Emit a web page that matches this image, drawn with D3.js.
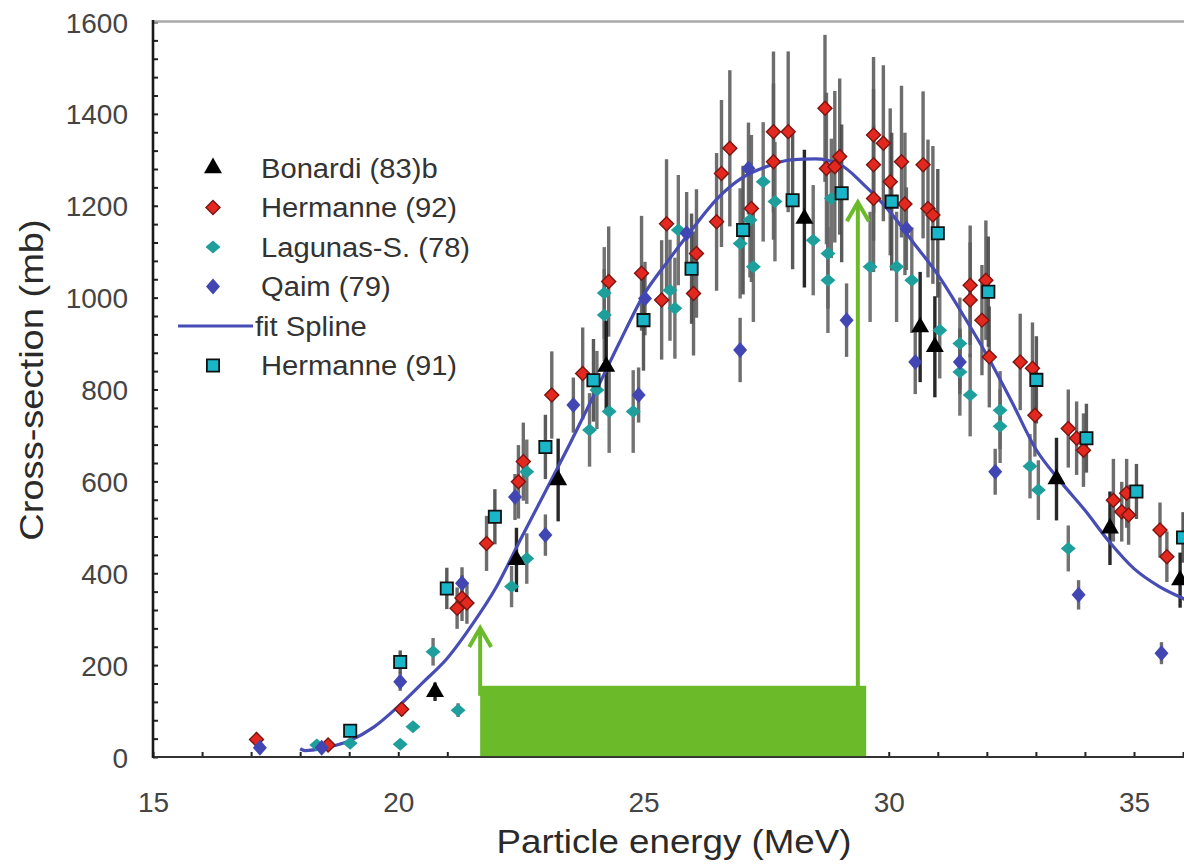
<!DOCTYPE html>
<html>
<head>
<meta charset="utf-8">
<script src="https://cdn.jsdelivr.net/npm/d3@7"></script>
<style>
  body { margin: 0; background: #fff; }
  svg { display: block; font-family: "Liberation Sans", Arial, sans-serif; }
</style>
</head>
<body>
<svg id="chart" width="1184" height="867"></svg>
<script>
// ---- data: [energy MeV, cross-section mb, error mb] ----
const bonardi = [
  [20.75, 142, 20], [22.41, 429, 70], [23.26, 603, 90], [24.24, 850, 100], [28.28, 1172, 150],
  [30.64, 936, 120], [30.94, 893, 110], [33.42, 605, 90], [34.51, 498, 80], [35.94, 385, 60]
];
const hermanne92 = [
  [17.11, 38, 15], [18.57, 26, 10], [20.07, 104, 15], [21.2, 324, 45], [21.3, 346, 50], [21.4, 335, 45],
  [21.8, 465, 60], [22.45, 599, 80], [22.55, 643, 85], [23.13, 788, 95], [23.76, 835, 100],
  [24.29, 1035, 120], [24.96, 1053, 125], [25.37, 995, 130], [25.47, 1161, 140], [26.02, 1009, 135],
  [26.08, 1096, 140], [26.49, 1165, 150], [26.59, 1270, 160], [26.76, 1325, 170], [27.2, 1194, 160],
  [27.65, 1296, 170], [27.65, 1361, 175], [27.95, 1361, 175], [28.7, 1412, 160], [28.73, 1281, 165],
  [28.9, 1285, 165], [29.0, 1307, 170], [29.69, 1354, 170], [29.89, 1336, 170], [29.69, 1289, 165],
  [29.69, 1216, 160], [30.03, 1252, 160], [30.26, 1296, 165], [30.33, 1204, 155], [30.7, 1289, 160],
  [30.8, 1194, 150], [30.9, 1180, 150], [31.66, 1027, 130], [31.66, 995, 125], [31.98, 1038, 130],
  [31.9, 951, 120], [32.05, 871, 110], [32.68, 860, 105], [32.93, 846, 100], [32.98, 744, 90],
  [33.66, 715, 85], [33.83, 694, 80], [33.97, 668, 80], [34.58, 559, 90], [34.75, 534, 65],
  [34.85, 574, 75], [34.89, 527, 65], [35.53, 494, 60], [35.67, 436, 55]
];
const lagunas = [
  [18.34, 26, 8], [19.02, 30, 8], [20.04, 28, 8], [20.3, 66, 10], [20.71, 229, 30], [21.22, 102, 15],
  [22.31, 371, 45], [22.62, 432, 55], [22.62, 621, 70], [23.9, 712, 80], [24.05, 799, 85],
  [24.2, 962, 100], [24.2, 1010, 100], [24.3, 752, 90], [24.79, 752, 90], [25.54, 1016, 110],
  [25.64, 977, 110], [25.71, 1147, 120], [26.97, 1118, 120], [27.17, 1169, 125], [27.24, 1067, 120],
  [27.44, 1252, 130], [27.68, 1209, 130], [28.46, 1125, 120], [28.76, 1096, 120], [28.76, 1038, 115],
  [28.83, 1216, 130], [29.62, 1067, 120], [30.16, 1067, 120], [30.47, 1038, 115], [31.04, 929, 105],
  [31.45, 900, 100], [31.45, 838, 95], [31.66, 788, 90], [32.27, 755, 85], [32.27, 720, 80],
  [32.88, 633, 70], [33.05, 581, 65], [33.66, 454, 50]
];
const qaim = [
  [17.18, 20, 8], [18.44, 20, 8], [20.04, 164, 20], [21.3, 378, 35], [22.38, 566, 50], [23.0, 483, 45],
  [23.57, 766, 60], [24.9, 788, 60], [25.03, 998, 80], [25.88, 1140, 90], [26.97, 886, 70],
  [27.14, 1281, 100], [29.14, 951, 80], [30.36, 1150, 90], [30.54, 860, 70], [31.45, 860, 70],
  [32.17, 621, 50], [33.87, 353, 32], [35.56, 226, 24]
];
const hermanne91 = [
  [19.02, 57, 12], [20.04, 207, 25], [20.99, 367, 45], [21.97, 523, 60], [23.0, 675, 70],
  [23.98, 820, 90], [25.0, 951, 110], [25.98, 1063, 120], [27.03, 1147, 140], [28.04, 1212, 150],
  [29.04, 1227, 150], [30.06, 1209, 150], [31.0, 1140, 140], [32.03, 1013, 120], [33.01, 821, 95],
  [34.03, 694, 75], [35.05, 578, 60], [36.0, 478, 55]
];
const splineE = [18, 18.1, 18.5, 19, 19.5, 20, 20.5, 21, 21.5, 22, 22.5, 23, 23.5, 24, 24.5, 25, 25.5, 26,
  26.5, 27, 27.5, 28, 28.5, 29, 29.5, 30, 30.5, 31, 31.5, 32, 32.5, 33, 33.5, 34, 34.5, 35, 35.5, 36, 36.3];
const splineS = [18, 14, 20, 35, 65, 110, 162, 215, 287, 370, 475, 578, 682, 790, 900, 1005, 1080, 1150,
  1215, 1260, 1285, 1300, 1302, 1290, 1245, 1190, 1120, 1050, 965, 875, 775, 670, 600, 537, 468, 410, 372, 345, 330];

const xTicks = d3.range(15, 37);
const yTicks = d3.range(0, 1601, 40);
const legendItems = ['Bonardi (83)b', 'Hermanne (92)', 'Lagunas-S. (78)', 'Qaim (79)', 'fit Spline', 'Hermanne (91)'];
// highlighted band and arrows (energy MeV)
const bandRange = [21.67, 29.54];
const bandTop = 155;
const arrows = [[21.67, 283], [29.37, 1210]];

// ---- scales ----
const svg = d3.select('#chart');
const x = d3.scaleLinear().domain([15, 35]).range([153, 1134]);
const y = d3.scaleLinear().domain([0, 1600]).range([757, 22]);
const plotRight = 1184;

svg.append('rect').attr('width', 1184).attr('height', 867).attr('fill', '#fff');

const diamond = (w, h) => `M0,${-h}L${w},0L0,${h}L${-w},0Z`;
const series = [
  { data: hermanne92, path: diamond(7, 7), fill: '#e2281f', stroke: '#7a1512', sw: 1.4, bar: '#5e5e5e' },
  { data: lagunas, path: diamond(7.5, 6.5), fill: '#1f9f9c', stroke: 'none', sw: 0, bar: '#646464' },
  { data: qaim, path: diamond(7, 8), fill: '#4146b2', stroke: 'none', sw: 0, bar: '#5e5e5e' },
  { data: hermanne91, path: d3.symbol(d3.symbolSquare, 150)(), fill: '#19b6c9', stroke: '#111', sw: 1.8, bar: '#4a4a4a' },
  { data: bonardi, path: d3.symbol(d3.symbolTriangle, 140)(), fill: '#000', stroke: 'none', sw: 0, bar: '#111' }
];

// ---- axes ----
const xAxis = d3.axisBottom(x).tickValues(xTicks).tickSize(-5).tickPadding(35)
  .tickFormat(d => d % 5 === 0 ? d : '');
const gx = svg.append('g').attr('transform', 'translate(0,757)').call(xAxis);
const yAxis = d3.axisLeft(y).tickValues(yTicks).tickSize(-5).tickPadding(25)
  .tickFormat(d => d % 200 === 0 ? d : '');
const gy = svg.append('g').attr('transform', 'translate(153,0)').call(yAxis);
[gx, gy].forEach(g => {
  g.select('.domain').remove();
  g.selectAll('.tick line').attr('stroke', '#222').attr('stroke-width', 2);
  g.selectAll('.tick text').attr('fill', '#444').style('font-size', '28px')
    .style('font-family', '"Liberation Sans", Arial, sans-serif');
});
gy.selectAll('.tick text').attr('dy', '0.36em');

svg.append('line').attr('x1', 153).attr('x2', plotRight).attr('y1', 21.5).attr('y2', 21.5)
  .attr('stroke', '#a9a9a9').attr('stroke-width', 2.5);
svg.append('line').attr('x1', 152).attr('x2', plotRight).attr('y1', 757).attr('y2', 757)
  .attr('stroke', '#333').attr('stroke-width', 2.2);
svg.append('line').attr('x1', 153).attr('x2', 153).attr('y1', 20).attr('y2', 758)
  .attr('stroke', '#1a1a1a').attr('stroke-width', 2.6);

// ---- error bars ----
const plot = svg.append('g');
series.forEach(s => {
  plot.selectAll(null).data(s.data).join('line')
    .attr('x1', d => x(d[0])).attr('x2', d => x(d[0]))
    .attr('y1', d => y(d[1] + d[2])).attr('y2', d => y(Math.max(0, d[1] - d[2])))
    .attr('stroke', s.bar).attr('stroke-width', 3.4).attr('opacity', 0.9);
});

// ---- spline ----
const spline = splineE.map((e, i) => [e, splineS[i]]);
plot.append('path').datum(spline)
  .attr('d', d3.line().x(d => x(d[0])).y(d => y(d[1])).curve(d3.curveMonotoneX))
  .attr('fill', 'none').attr('stroke', '#474db4').attr('stroke-width', 3.2);

// ---- markers ----
series.forEach(s => {
  plot.selectAll(null).data(s.data).join('path')
    .attr('transform', d => `translate(${x(d[0])},${y(d[1])})`)
    .attr('d', s.path).attr('fill', s.fill)
    .attr('stroke', s.stroke).attr('stroke-width', s.sw);
});

// ---- green band and arrows ----
const green = '#6bba2a';
svg.append('rect')
  .attr('x', x(bandRange[0])).attr('y', y(bandTop))
  .attr('width', x(bandRange[1]) - x(bandRange[0])).attr('height', y(2) - y(bandTop))
  .attr('fill', green);
arrows.forEach(a => {
  const ax = x(a[0]), ay = y(a[1]);
  svg.append('line').attr('x1', ax).attr('x2', ax).attr('y1', ay + 2).attr('y2', y(bandTop) + 10)
    .attr('stroke', green).attr('stroke-width', 4);
  svg.append('path').attr('d', `M${ax - 11},${ay + 20}L${ax},${ay + 1}L${ax + 11},${ay + 20}`)
    .attr('fill', 'none').attr('stroke', green).attr('stroke-width', 4).attr('stroke-linejoin', 'miter');
});

// ---- legend ----
const legend = svg.append('g');
const legendMarks = [series[4], series[0], series[1], series[2], null, series[3]];
legendItems.forEach((name, i) => {
  const cy = 168 + i * 39.5;
  const s = legendMarks[i];
  if (s) {
    legend.append('path').attr('transform', `translate(213,${cy})`)
      .attr('d', s.path).attr('fill', s.fill).attr('stroke', s.stroke).attr('stroke-width', s.sw);
  } else {
    legend.append('line').attr('x1', 178).attr('x2', 253).attr('y1', cy).attr('y2', cy)
      .attr('stroke', '#474db4').attr('stroke-width', 3.2);
  }
  legend.append('g').attr('transform', `translate(${s ? 261 : 255},${cy + 9.5}) scale(1.08,1)`)
    .append('text').text(name).attr('fill', '#333').style('font-size', '27px');
});

// ---- axis titles ----
svg.append('g').attr('transform', 'translate(674,853) scale(1.08,1)')
  .append('text').text('Particle energy (MeV)').attr('text-anchor', 'middle')
  .attr('fill', '#2a2a2a').style('font-size', '34px');
svg.append('g').attr('transform', 'translate(43,380) rotate(-90) scale(1.12,1)')
  .append('text').text('Cross-section (mb)').attr('text-anchor', 'middle')
  .attr('fill', '#2a2a2a').style('font-size', '34px');
</script>
</body>
</html>
